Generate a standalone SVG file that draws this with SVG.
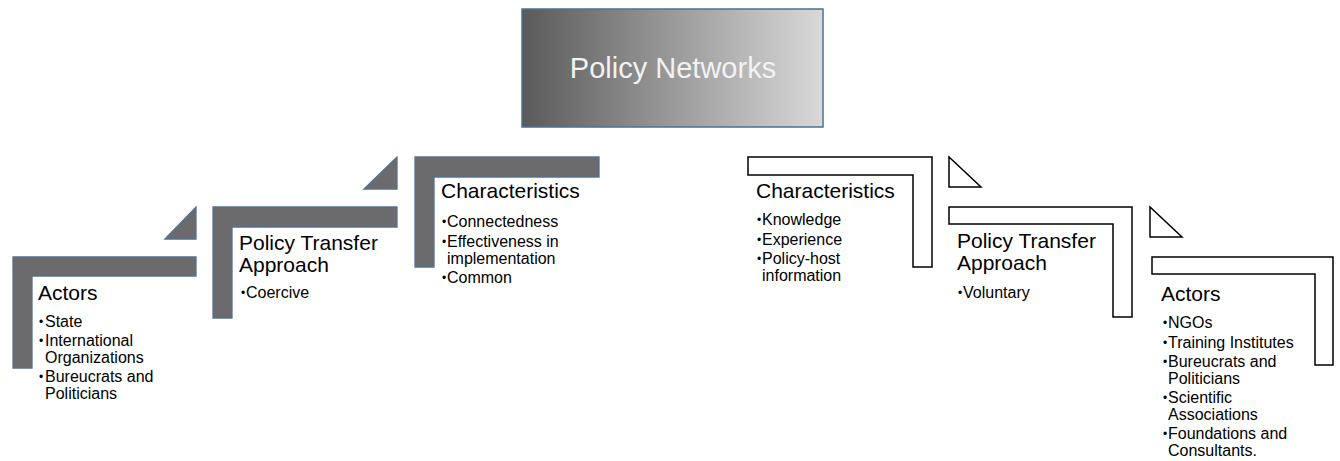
<svg xmlns="http://www.w3.org/2000/svg" width="1340" height="461" viewBox="0 0 1340 461">
<defs>
<linearGradient id="g" x1="0" y1="0" x2="1" y2="0">
<stop offset="0" stop-color="#5a5a5a"/>
<stop offset="1" stop-color="#d9d9d9"/>
</linearGradient>
<style>
.dk{fill:#6b6b6e;stroke:#56708f;stroke-width:1.3}
.lt{fill:#ffffff;stroke:#000000;stroke-width:1.5}
.t{font-family:"Liberation Sans",Arial,sans-serif;font-size:21px;fill:#000}
.b{font-family:"Liberation Sans",Arial,sans-serif;font-size:16px;fill:#000}
.d{font-size:12px}
</style>
</defs>
<rect width="1340" height="461" fill="#fff"/>
<g id="root">
<rect x="522" y="9" width="301" height="118" fill="url(#g)" stroke="#4f6f8f" stroke-width="1.5"/>
<text x="673" y="78" text-anchor="middle" font-family="Liberation Sans,Arial,sans-serif" font-size="29" fill="#f2f2f2">Policy Networks</text>
</g>
<g id="connectors">
<polygon class="dk" points="165,239 196,207 196,239"/>
<polygon class="dk" points="364,189 397,157 397,189"/>
<polygon class="lt" points="949,157 949,187 981,187"/>
<polygon class="lt" points="1150,207 1150,237 1182,237"/>
</g>
<g id="actors-left">
<polygon class="dk" points="13,257 196,257 196,276 32,276 32,368 13,368"/>
<text class="t" x="38" y="300">Actors</text>
<text class="b" x="39" y="327"><tspan class="d" dy="-1.5">•</tspan><tspan x="45" dy="1.5">State</tspan></text>
<text class="b" x="39" y="346"><tspan class="d" dy="-1.5">•</tspan><tspan x="45" dy="1.5">International</tspan></text>
<text class="b" x="45" y="363">Organizations</text>
<text class="b" x="39" y="382"><tspan class="d" dy="-1.5">•</tspan><tspan x="45" dy="1.5">Bureucrats and</tspan></text>
<text class="b" x="45" y="399">Politicians</text>
</g>
<g id="transfer-left">
<polygon class="dk" points="213,207 397,207 397,227 232,227 232,318 213,318"/>
<text class="t" x="239" y="250">Policy Transfer</text>
<text class="t" x="239" y="272">Approach</text>
<text class="b" x="241" y="298"><tspan class="d" dy="-1.5">•</tspan><tspan x="246" dy="1.5">Coercive</tspan></text>
</g>
<g id="char-left">
<polygon class="dk" points="415,157 599,157 599,177 434,177 434,267 415,267"/>
<text class="t" x="441" y="198">Characteristics</text>
<text class="b" x="442" y="227"><tspan class="d" dy="-1.5">•</tspan><tspan x="447" dy="1.5">Connectedness</tspan></text>
<text class="b" x="442" y="247"><tspan class="d" dy="-1.5">•</tspan><tspan x="447" dy="1.5">Effectiveness in</tspan></text>
<text class="b" x="447" y="264">implementation</text>
<text class="b" x="442" y="283"><tspan class="d" dy="-1.5">•</tspan><tspan x="447" dy="1.5">Common</tspan></text>
</g>
<g id="char-right">
<polygon class="lt" points="748,157 932,157 932,267 913,267 913,175 748,175"/>
<text class="t" x="756" y="198">Characteristics</text>
<text class="b" x="757" y="225"><tspan class="d" dy="-1.5">•</tspan><tspan x="762" dy="1.5">Knowledge</tspan></text>
<text class="b" x="757" y="245"><tspan class="d" dy="-1.5">•</tspan><tspan x="762" dy="1.5">Experience</tspan></text>
<text class="b" x="757" y="264"><tspan class="d" dy="-1.5">•</tspan><tspan x="762" dy="1.5">Policy-host</tspan></text>
<text class="b" x="762" y="281">information</text>
</g>
<g id="transfer-right">
<polygon class="lt" points="949,207 1132,207 1132,317 1113,317 1113,224 949,224"/>
<text class="t" x="957" y="248">Policy Transfer</text>
<text class="t" x="957" y="270">Approach</text>
<text class="b" x="958" y="298"><tspan class="d" dy="-1.5">•</tspan><tspan x="963" dy="1.5">Voluntary</tspan></text>
</g>
<g id="actors-right">
<polygon class="lt" points="1152,257 1333,257 1333,365 1315,365 1315,274 1152,274"/>
<text class="t" x="1161" y="301">Actors</text>
<text class="b" x="1163" y="328"><tspan class="d" dy="-1.5">•</tspan><tspan x="1168" dy="1.5">NGOs</tspan></text>
<text class="b" x="1163" y="348"><tspan class="d" dy="-1.5">•</tspan><tspan x="1168" dy="1.5">Training Institutes</tspan></text>
<text class="b" x="1163" y="367"><tspan class="d" dy="-1.5">•</tspan><tspan x="1168" dy="1.5">Bureucrats and</tspan></text>
<text class="b" x="1168" y="384">Politicians</text>
<text class="b" x="1163" y="403"><tspan class="d" dy="-1.5">•</tspan><tspan x="1168" dy="1.5">Scientific</tspan></text>
<text class="b" x="1168" y="420">Associations</text>
<text class="b" x="1163" y="439"><tspan class="d" dy="-1.5">•</tspan><tspan x="1168" dy="1.5">Foundations and</tspan></text>
<text class="b" x="1168" y="456">Consultants.</text>
</g>
</svg>
